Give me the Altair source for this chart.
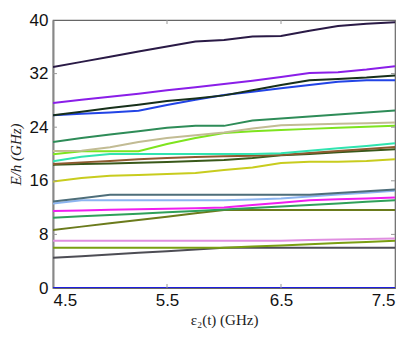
import altair as alt
import pandas as pd

eps2 = [4.5, 4.75, 5.0, 5.25, 5.5, 5.75, 6.0, 6.25, 6.5, 6.75, 7.0, 7.25, 7.5]

levels = {
    "L00": [0, 0, 0, 0, 0, 0, 0, 0, 0, 0, 0, 0, 0],
    "L01": [4.5, 4.75, 5.0, 5.25, 5.5, 5.75, 6.0, 6.0, 6.0, 6.0, 6.0, 6.0, 6.0],
    "L02": [6.0, 6.0, 6.0, 6.0, 6.0, 6.0, 6.0, 6.18, 6.35, 6.53, 6.7, 6.88, 7.06],
    "L03": [7.06, 7.06, 7.06, 7.06, 7.06, 7.06, 7.06, 7.06, 7.06, 7.15, 7.23, 7.32, 7.4],
    "L04": [8.66, 9.16, 9.65, 10.15, 10.65, 11.14, 11.64, 11.64, 11.64, 11.64, 11.64, 11.64, 11.64],
    "L05": [10.5, 10.7, 10.9, 11.1, 11.3, 11.5, 11.7, 11.93, 12.17, 12.4, 12.63, 12.87, 13.1],
    "L06": [11.5, 11.58, 11.67, 11.75, 11.83, 11.92, 12.0, 12.37, 12.73, 13.1, 13.23, 13.37, 13.5],
    "L07": [12.6, 13.1, 13.1, 13.1, 13.1, 13.1, 13.1, 13.2, 13.35, 13.65, 13.95, 14.2, 14.5],
    "L08": [12.9, 13.4, 13.9, 13.9, 13.9, 13.9, 13.9, 13.9, 13.9, 13.9, 14.17, 14.43, 14.7],
    "L09": [15.9, 16.4, 16.75, 16.85, 17.0, 17.15, 17.6, 18.0, 18.65, 18.85, 18.85, 18.95, 19.2],
    "L10": [18.4, 18.5, 18.6, 18.7, 18.8, 18.95, 19.1, 19.4, 19.8, 20.0, 20.25, 20.5, 20.7],
    "L11": [18.5, 18.75, 18.95, 19.2, 19.4, 19.55, 19.65, 19.75, 19.85, 20.15, 20.45, 20.75, 21.05],
    "L12": [18.9, 19.6, 20.0, 20.0, 20.0, 20.0, 20.0, 20.0, 20.1, 20.5, 20.85, 21.2, 21.6],
    "L13": [19.95, 20.4, 20.4, 20.4, 21.5, 22.4, 23.15, 23.4, 23.6, 23.75, 23.9, 24.05, 24.2],
    "L14": [20.45, 20.5, 21.0, 21.8, 22.4, 22.8, 23.2, 23.8, 24.3, 24.4, 24.5, 24.6, 24.7],
    "L15": [21.8, 22.4, 22.9, 23.4, 23.9, 24.2, 24.2, 25.0, 25.3, 25.6, 25.9, 26.2, 26.5],
    "L16": [25.8, 26.0, 26.2, 26.45, 27.3, 28.1, 28.8, 29.3, 29.8, 30.3, 30.8, 31.0, 31.0],
    "L17": [25.8, 26.3, 26.85, 27.35, 27.9, 28.3, 28.75, 29.5, 30.3, 31.0, 31.2, 31.4, 31.7],
    "L18": [27.6, 28.1, 28.55, 29.0, 29.5, 29.95, 30.45, 30.95, 31.5, 32.1, 32.2, 32.6, 33.1],
    "L19": [33.0, 33.75, 34.5, 35.3, 36.05, 36.8, 37.0, 37.55, 37.6, 38.4, 39.1, 39.45, 39.65],
}

colors = [
    "#1f1fe0", "#4d4d55", "#7a9e12", "#e08ee0", "#6b7b1c",
    "#2fa05a", "#f01ef0", "#8cb4f0", "#4e6e7a", "#c8cc1e",
    "#38581a", "#8e5a30", "#30e4b0", "#7ee41e", "#c2bc94",
    "#2e8c58", "#2244e6", "#17301a", "#8a1ee8", "#2a1a46",
]

x_ticks = [4.5, 5.5, 6.5, 7.5]
y_ticks = [0, 8, 16, 24, 32, 40]
x_inner_ticks = [5.5, 6.5]
y_inner_ticks = [8, 16, 24, 32]

rows = []
for name, vals in levels.items():
    for xv, yv in zip(eps2, vals):
        rows.append({"eps": xv, "E": yv, "level": name})
df = pd.DataFrame(rows)

font = "Liberation Sans"

xscale = alt.Scale(domain=[4.5, 7.5], nice=False, zero=False)
yscale = alt.Scale(domain=[0, 40], nice=False)

lines = alt.Chart(df).mark_line(strokeWidth=2, clip=True).encode(
    x=alt.X("eps:Q", scale=xscale,
            axis=alt.Axis(values=x_ticks, format=".1f", title="ε₂(t) (GHz)",
                          titleFont="Liberation Serif", titleFontWeight="normal",
                          titleFontSize=15, titleColor="#222", titlePadding=4,
                          labelFont=font, labelFontSize=17, labelColor="#111",
                          labelPadding=4, ticks=False, domain=False, grid=False)),
    y=alt.Y("E:Q", scale=yscale,
            axis=alt.Axis(values=y_ticks, title="E/h (GHz)",
                          titleFont="Liberation Serif", titleFontWeight="normal",
                          titleFontStyle="italic",
                          titleFontSize=15, titleColor="#222", titlePadding=6,
                          labelFont=font, labelFontSize=17, labelColor="#111",
                          labelPadding=5, ticks=False, domain=True,
                          domainColor="#888", domainWidth=2, grid=False)),
    color=alt.Color("level:N", scale=alt.Scale(domain=list(levels.keys()), range=colors),
                    legend=None),
    detail="level:N",
)

# inward tick marks on all four sides
xt_rows = []
for t in x_inner_ticks:
    xt_rows.append({"x": t, "y0": 0, "y1": 0.6})
    xt_rows.append({"x": t, "y0": 39.4, "y1": 40})
yt_rows = []
for t in y_inner_ticks:
    yt_rows.append({"y": t, "x0": 4.5, "x1": 4.535})
    yt_rows.append({"y": t, "x0": 7.465, "x1": 7.5})

xt = alt.Chart(pd.DataFrame(xt_rows)).mark_rule(color="#999", strokeWidth=1).encode(
    x=alt.X("x:Q", scale=xscale), y=alt.Y("y0:Q", scale=yscale), y2="y1:Q")
yt = alt.Chart(pd.DataFrame(yt_rows)).mark_rule(color="#999", strokeWidth=1).encode(
    y=alt.Y("y:Q", scale=yscale), x=alt.X("x0:Q", scale=xscale), x2="x1:Q")

chart = alt.layer(lines, xt, yt).properties(
    width=342, height=268,
    padding={"left": 0, "top": 3, "right": 5, "bottom": 5},
).configure_view(stroke="#666", strokeWidth=1.2)

chart.save("out.html", embed_options={"renderer": "svg", "actions": False})
